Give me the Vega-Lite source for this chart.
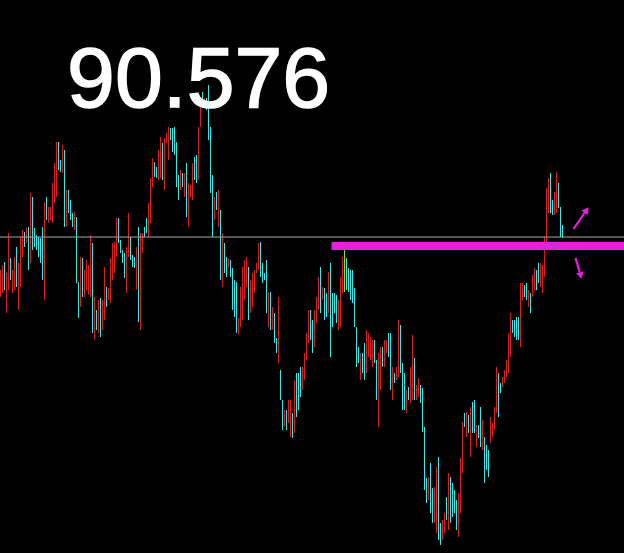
{
"$schema": "https://vega.github.io/schema/vega-lite/v6.json",
"width": 624, "height": 553,
"autosize": {"type": "none"},
"padding": 0,
"background": "black",
"config": {"view": {"stroke": null}},
"datasets": {
"bars": [
{"t":0,"h":90.30,"l":90.03,"c":"r"},{"t":1,"h":90.35,"l":90.07,"c":"r"},{"t":2,"h":90.38,"l":90.10,"c":"b"},{"t":3,"h":90.27,"l":89.87,"c":"r"},{"t":4,"h":90.67,"l":90.10,"c":"r"},{"t":5,"h":90.42,"l":90.20,"c":"b"},{"t":6,"h":90.30,"l":90.07,"c":"r"},{"t":7,"h":90.43,"l":90.10,"c":"r"},{"t":8,"h":90.53,"l":90.13,"c":"b"},{"t":9,"h":90.37,"l":89.90,"c":"r"},
{"t":10,"h":90.63,"l":90.13,"c":"r"},{"t":11,"h":90.70,"l":90.43,"c":"r"},{"t":12,"h":90.68,"l":90.53,"c":"b"},{"t":13,"h":90.72,"l":90.57,"c":"r"},{"t":14,"h":90.73,"l":90.30,"c":"b"},{"t":15,"h":91.07,"l":90.37,"c":"r"},{"t":16,"h":91.03,"l":90.50,"c":"b"},{"t":17,"h":90.72,"l":90.53,"c":"b"},{"t":18,"h":90.65,"l":90.50,"c":"b"},{"t":19,"h":90.63,"l":90.43,"c":"b"},
{"t":20,"h":90.62,"l":90.37,"c":"b"},{"t":21,"h":90.73,"l":90.20,"c":"b"},{"t":22,"h":90.98,"l":90.00,"c":"r"},{"t":23,"h":91.03,"l":90.80,"c":"b"},{"t":24,"h":90.93,"l":90.77,"c":"r"},{"t":25,"h":90.93,"l":90.80,"c":"r"},{"t":26,"h":91.17,"l":90.77,"c":"r"},{"t":27,"h":91.37,"l":90.97,"c":"r"},{"t":28,"h":91.58,"l":91.03,"c":"r"},{"t":29,"h":91.58,"l":91.30,"c":"b"},
{"t":30,"h":91.40,"l":91.28,"c":"b"},{"t":31,"h":91.55,"l":91.27,"c":"r"},{"t":32,"h":91.50,"l":90.73,"c":"b"},{"t":33,"h":91.10,"l":90.73,"c":"r"},{"t":34,"h":91.10,"l":90.87,"c":"b"},{"t":35,"h":91.00,"l":90.80,"c":"b"},{"t":36,"h":90.87,"l":90.73,"c":"b"},{"t":37,"h":90.88,"l":90.70,"c":"r"},{"t":38,"h":90.83,"l":90.17,"c":"b"},{"t":39,"h":90.18,"l":89.82,"c":"b"},
{"t":40,"h":90.43,"l":89.93,"c":"r"},{"t":41,"h":90.42,"l":90.03,"c":"b"},{"t":42,"h":90.30,"l":90.03,"c":"r"},{"t":43,"h":90.40,"l":90.10,"c":"r"},{"t":44,"h":90.35,"l":90.05,"c":"r"},{"t":45,"h":90.65,"l":90.03,"c":"r"},{"t":46,"h":90.57,"l":89.67,"c":"b"},{"t":47,"h":90.03,"l":89.60,"c":"r"},{"t":48,"h":89.90,"l":89.70,"c":"b"},{"t":49,"h":90.00,"l":89.67,"c":"r"},
{"t":50,"h":90.02,"l":89.63,"c":"b"},{"t":51,"h":90.00,"l":89.70,"c":"r"},{"t":52,"h":90.33,"l":89.80,"c":"r"},{"t":53,"h":90.13,"l":89.93,"c":"b"},{"t":54,"h":90.12,"l":90.00,"c":"r"},{"t":55,"h":90.42,"l":89.97,"c":"r"},{"t":56,"h":90.57,"l":90.20,"c":"r"},{"t":57,"h":90.58,"l":90.27,"c":"r"},{"t":58,"h":90.82,"l":90.43,"c":"r"},{"t":59,"h":90.82,"l":90.57,"c":"b"},
{"t":60,"h":90.60,"l":90.47,"c":"b"},{"t":61,"h":90.50,"l":90.37,"c":"b"},{"t":62,"h":90.47,"l":90.22,"c":"b"},{"t":63,"h":90.53,"l":90.07,"c":"r"},{"t":64,"h":90.87,"l":90.43,"c":"r"},{"t":65,"h":90.63,"l":90.40,"c":"b"},{"t":66,"h":90.45,"l":90.33,"c":"b"},{"t":67,"h":90.43,"l":90.32,"c":"b"},{"t":68,"h":90.53,"l":90.10,"c":"r"},{"t":69,"h":90.73,"l":89.78,"c":"b"},
{"t":70,"h":90.67,"l":89.70,"c":"r"},{"t":71,"h":90.67,"l":90.47,"c":"r"},{"t":72,"h":90.73,"l":90.63,"c":"b"},{"t":73,"h":90.82,"l":90.67,"c":"b"},{"t":74,"h":90.97,"l":90.63,"c":"r"},{"t":75,"h":91.22,"l":90.77,"c":"r"},{"t":76,"h":91.42,"l":91.13,"c":"r"},{"t":77,"h":91.38,"l":91.23,"c":"b"},{"t":78,"h":91.33,"l":91.22,"c":"b"},{"t":79,"h":91.50,"l":91.20,"c":"r"},
{"t":80,"h":91.63,"l":91.22,"c":"r"},{"t":81,"h":91.57,"l":91.20,"c":"b"},{"t":82,"h":91.62,"l":91.10,"c":"r"},{"t":83,"h":91.67,"l":91.57,"c":"r"},{"t":84,"h":91.73,"l":91.40,"c":"r"},{"t":85,"h":91.72,"l":91.60,"c":"b"},{"t":86,"h":91.72,"l":91.48,"c":"b"},{"t":87,"h":91.73,"l":91.45,"c":"b"},{"t":88,"h":91.58,"l":91.13,"c":"b"},{"t":89,"h":91.25,"l":91.00,"c":"b"},
{"t":90,"h":91.30,"l":91.10,"c":"r"},{"t":91,"h":91.27,"l":91.13,"c":"b"},{"t":92,"h":91.27,"l":91.03,"c":"r"},{"t":93,"h":91.37,"l":90.83,"c":"b"},{"t":94,"h":91.17,"l":90.73,"c":"r"},{"t":95,"h":91.15,"l":91.03,"c":"r"},{"t":96,"h":91.37,"l":91.00,"c":"r"},{"t":97,"h":91.43,"l":91.20,"c":"b"},{"t":98,"h":91.45,"l":91.17,"c":"b"},{"t":99,"h":91.73,"l":91.20,"c":"r"},
{"t":100,"h":92.00,"l":91.73,"c":"r"},{"t":101,"h":92.08,"l":91.93,"c":"b"},{"t":102,"h":92.02,"l":91.93,"c":"r"},{"t":103,"h":92.02,"l":91.90,"c":"b"},{"t":104,"h":92.15,"l":91.60,"c":"b"},{"t":105,"h":91.73,"l":91.07,"c":"b"},{"t":106,"h":91.25,"l":90.63,"c":"b"},{"t":107,"h":91.03,"l":90.80,"c":"r"},{"t":108,"h":91.08,"l":90.90,"c":"b"},{"t":109,"h":91.10,"l":90.73,"c":"r"},
{"t":110,"h":90.90,"l":90.20,"c":"b"},{"t":111,"h":90.67,"l":90.13,"c":"r"},{"t":112,"h":90.57,"l":90.27,"c":"b"},{"t":113,"h":90.43,"l":90.23,"c":"b"},{"t":114,"h":90.42,"l":90.32,"c":"r"},{"t":115,"h":90.40,"l":90.23,"c":"b"},{"t":116,"h":90.32,"l":89.90,"c":"b"},{"t":117,"h":90.20,"l":89.83,"c":"b"},{"t":118,"h":90.18,"l":89.67,"c":"b"},{"t":119,"h":89.82,"l":89.65,"c":"r"},
{"t":120,"h":90.13,"l":89.73,"c":"r"},{"t":121,"h":90.33,"l":89.80,"c":"r"},{"t":122,"h":90.40,"l":90.00,"c":"r"},{"t":123,"h":90.43,"l":90.13,"c":"r"},{"t":124,"h":90.33,"l":89.80,"c":"b"},{"t":125,"h":90.20,"l":89.87,"c":"r"},{"t":126,"h":90.27,"l":89.93,"c":"r"},{"t":127,"h":90.30,"l":90.07,"c":"r"},{"t":128,"h":90.37,"l":90.27,"c":"r"},{"t":129,"h":90.57,"l":90.30,"c":"r"},
{"t":130,"h":90.58,"l":90.23,"c":"b"},{"t":131,"h":90.37,"l":90.17,"c":"b"},{"t":132,"h":90.27,"l":90.20,"c":"b"},{"t":133,"h":90.40,"l":89.87,"c":"b"},{"t":134,"h":90.08,"l":89.73,"c":"r"},{"t":135,"h":90.08,"l":89.70,"c":"b"},{"t":136,"h":89.93,"l":89.70,"c":"r"},{"t":137,"h":89.87,"l":89.57,"c":"b"},{"t":138,"h":89.62,"l":89.47,"c":"b"},{"t":139,"h":90.03,"l":89.37,"c":"r"},
{"t":140,"h":89.30,"l":89.00,"c":"b"},{"t":141,"h":89.00,"l":88.70,"c":"b"},{"t":142,"h":88.90,"l":88.73,"c":"r"},{"t":143,"h":88.90,"l":88.70,"c":"b"},{"t":144,"h":89.00,"l":88.77,"c":"r"},{"t":145,"h":89.00,"l":88.63,"c":"r"},{"t":146,"h":88.87,"l":88.62,"c":"b"},{"t":147,"h":89.20,"l":88.67,"c":"r"},{"t":148,"h":89.27,"l":88.83,"c":"b"},{"t":149,"h":89.27,"l":88.90,"c":"b"},
{"t":150,"h":89.33,"l":89.03,"c":"b"},{"t":151,"h":89.33,"l":89.10,"c":"r"},{"t":152,"h":89.47,"l":89.20,"c":"r"},{"t":153,"h":89.67,"l":89.40,"c":"r"},{"t":154,"h":89.90,"l":89.57,"c":"r"},{"t":155,"h":89.90,"l":89.60,"c":"b"},{"t":156,"h":89.80,"l":89.47,"c":"b"},{"t":157,"h":89.90,"l":89.53,"c":"r"},{"t":158,"h":90.03,"l":89.77,"c":"r"},{"t":159,"h":90.23,"l":89.90,"c":"r"},
{"t":160,"h":90.33,"l":89.87,"c":"b"},{"t":161,"h":90.13,"l":90.00,"c":"r"},{"t":162,"h":90.12,"l":89.80,"c":"b"},{"t":163,"h":90.07,"l":89.83,"c":"b"},{"t":164,"h":90.28,"l":89.87,"c":"r"},{"t":165,"h":90.37,"l":89.43,"c":"b"},{"t":166,"h":90.07,"l":89.73,"c":"b"},{"t":167,"h":90.07,"l":89.87,"c":"b"},{"t":168,"h":90.05,"l":89.77,"c":"b"},{"t":169,"h":90.00,"l":89.70,"c":"r"},
{"t":170,"h":90.23,"l":89.73,"c":"r"},{"t":171,"h":90.43,"l":90.07,"c":"r"},{"t":172,"h":90.50,"l":90.08,"c":"g"},{"t":173,"h":90.42,"l":90.10,"c":"b"},{"t":174,"h":90.32,"l":90.08,"c":"b"},{"t":175,"h":90.30,"l":90.00,"c":"b"},{"t":176,"h":90.30,"l":89.97,"c":"b"},{"t":177,"h":90.12,"l":89.73,"c":"b"},{"t":178,"h":89.73,"l":89.33,"c":"b"},{"t":179,"h":89.53,"l":89.37,"c":"b"},
{"t":180,"h":89.47,"l":89.20,"c":"r"},{"t":181,"h":89.47,"l":89.27,"c":"b"},{"t":182,"h":89.57,"l":89.20,"c":"b"},{"t":183,"h":89.70,"l":89.27,"c":"r"},{"t":184,"h":89.67,"l":89.43,"c":"r"},{"t":185,"h":89.63,"l":89.40,"c":"r"},{"t":186,"h":89.60,"l":89.33,"c":"r"},{"t":187,"h":89.60,"l":89.37,"c":"b"},{"t":188,"h":89.40,"l":89.00,"c":"b"},{"t":189,"h":89.47,"l":88.73,"c":"r"},
{"t":190,"h":89.53,"l":89.10,"c":"r"},{"t":191,"h":89.53,"l":89.33,"c":"b"},{"t":192,"h":89.60,"l":89.33,"c":"r"},{"t":193,"h":89.60,"l":89.47,"c":"r"},{"t":194,"h":89.67,"l":89.43,"c":"b"},{"t":195,"h":89.67,"l":89.10,"c":"b"},{"t":196,"h":89.33,"l":89.00,"c":"r"},{"t":197,"h":89.27,"l":89.17,"c":"b"},{"t":198,"h":89.33,"l":89.20,"c":"r"},{"t":199,"h":89.80,"l":89.23,"c":"r"},
{"t":200,"h":89.75,"l":89.27,"c":"b"},{"t":201,"h":89.37,"l":88.90,"c":"b"},{"t":202,"h":89.27,"l":88.90,"c":"b"},{"t":203,"h":89.10,"l":88.87,"c":"r"},{"t":204,"h":89.13,"l":89.00,"c":"b"},{"t":205,"h":89.33,"l":88.97,"c":"r"},{"t":206,"h":89.65,"l":89.00,"c":"r"},{"t":207,"h":89.42,"l":89.00,"c":"b"},{"t":208,"h":89.15,"l":89.00,"c":"r"},{"t":209,"h":89.22,"l":89.03,"c":"r"},
{"t":210,"h":89.15,"l":88.97,"c":"b"},{"t":211,"h":89.12,"l":88.68,"c":"b"},{"t":212,"h":88.73,"l":88.10,"c":"b"},{"t":213,"h":88.22,"l":87.97,"c":"b"},{"t":214,"h":88.23,"l":88.00,"c":"r"},{"t":215,"h":88.37,"l":87.87,"c":"b"},{"t":216,"h":88.12,"l":87.77,"c":"b"},{"t":217,"h":88.13,"l":87.77,"c":"r"},{"t":218,"h":88.33,"l":87.67,"c":"r"},{"t":219,"h":88.43,"l":87.60,"c":"b"},
{"t":220,"h":87.77,"l":87.55,"c":"b"},{"t":221,"h":87.80,"l":87.60,"c":"r"},{"t":222,"h":87.87,"l":87.67,"c":"r"},{"t":223,"h":88.03,"l":87.80,"c":"b"},{"t":224,"h":88.27,"l":87.70,"c":"r"},{"t":225,"h":88.23,"l":87.77,"c":"b"},{"t":226,"h":88.17,"l":87.83,"c":"b"},{"t":227,"h":88.10,"l":87.87,"c":"b"},{"t":228,"h":88.00,"l":87.70,"c":"b"},{"t":229,"h":88.07,"l":87.63,"c":"r"},
{"t":230,"h":88.42,"l":87.87,"c":"r"},{"t":231,"h":88.78,"l":88.27,"c":"r"},{"t":232,"h":88.87,"l":88.73,"c":"b"},{"t":233,"h":88.88,"l":88.63,"c":"r"},{"t":234,"h":88.85,"l":88.67,"c":"b"},{"t":235,"h":88.93,"l":88.43,"c":"r"},{"t":236,"h":88.98,"l":88.67,"c":"b"},{"t":237,"h":89.00,"l":88.67,"c":"b"},{"t":238,"h":88.75,"l":88.53,"c":"r"},{"t":239,"h":88.75,"l":88.62,"c":"b"},
{"t":240,"h":88.93,"l":88.53,"c":"b"},{"t":241,"h":88.80,"l":88.50,"c":"r"},{"t":242,"h":88.63,"l":88.17,"c":"b"},{"t":243,"h":88.55,"l":88.30,"c":"b"},{"t":244,"h":88.50,"l":88.23,"c":"b"},{"t":245,"h":88.83,"l":88.57,"c":"r"},{"t":246,"h":88.77,"l":88.63,"c":"r"},{"t":247,"h":88.93,"l":88.70,"c":"r"},{"t":248,"h":89.33,"l":88.87,"c":"r"},{"t":249,"h":89.27,"l":88.83,"c":"b"},
{"t":250,"h":89.17,"l":89.07,"c":"b"},{"t":251,"h":89.23,"l":89.13,"c":"r"},{"t":252,"h":89.30,"l":89.17,"c":"r"},{"t":253,"h":89.40,"l":89.23,"c":"r"},{"t":254,"h":89.67,"l":89.27,"c":"r"},{"t":255,"h":89.87,"l":89.43,"c":"r"},{"t":256,"h":89.80,"l":89.67,"c":"b"},{"t":257,"h":89.80,"l":89.63,"c":"b"},{"t":258,"h":89.83,"l":89.60,"c":"b"},{"t":259,"h":89.83,"l":89.60,"c":"b"},
{"t":260,"h":90.17,"l":89.53,"c":"r"},{"t":261,"h":90.17,"l":90.00,"c":"r"},{"t":262,"h":90.15,"l":90.03,"c":"b"},{"t":263,"h":90.17,"l":90.00,"c":"b"},{"t":264,"h":90.10,"l":89.93,"c":"r"},{"t":265,"h":90.07,"l":89.87,"c":"b"},{"t":266,"h":90.25,"l":90.03,"c":"r"},{"t":267,"h":90.32,"l":90.10,"c":"r"},{"t":268,"h":90.30,"l":90.10,"c":"b"},{"t":269,"h":90.37,"l":90.17,"c":"b"},
{"t":270,"h":90.37,"l":90.13,"c":"r"},{"t":271,"h":90.35,"l":90.07,"c":"r"},{"t":272,"h":90.63,"l":90.23,"c":"r"},{"t":273,"h":91.12,"l":90.50,"c":"r"},{"t":274,"h":91.22,"l":90.87,"c":"r"},{"t":275,"h":91.27,"l":90.87,"c":"b"},{"t":276,"h":91.00,"l":90.85,"c":"b"},{"t":277,"h":91.08,"l":90.85,"c":"r"},{"t":278,"h":91.28,"l":90.87,"c":"r"},{"t":279,"h":91.17,"l":90.92,"c":"b"},
{"t":280,"h":90.93,"l":90.63,"c":"b"},{"t":281,"h":90.75,"l":90.62,"c":"b"}
]
},
"layer": [
{
"data": {"name": "bars"},
"mark": {"type": "rule", "strokeWidth": 1},
"encoding": {
"x": {"field": "t", "type": "quantitative", "scale": {"domain": [-0.25, 311.75], "nice": false, "zero": false}, "axis": null},
"y": {"field": "h", "type": "quantitative", "scale": {"domain": [87.47, 93], "nice": false, "zero": false}, "axis": null},
"y2": {"field": "l"},
"color": {"field": "c", "type": "nominal", "scale": {"domain": ["r", "b", "g"], "range": ["#d42222", "#44e4e4", "#80e040"]}, "legend": null}
}
},
{
"data": {"values": [{"p": 90.63}]},
"mark": {"type": "rule", "color": "#a8a8a8", "strokeWidth": 1},
"encoding": {"y": {"field": "p", "type": "quantitative"}}
},
{
"data": {"values": [{"a": 165.5, "b": 312, "p": 90.54}]},
"mark": {"type": "rule", "color": "#e61ee6", "strokeWidth": 8},
"encoding": {
"x": {"field": "a", "type": "quantitative"},
"x2": {"field": "b"},
"y": {"field": "p", "type": "quantitative"}
}
},
{
"data": {"values": [{"a": 286.5, "b": 292.3, "p": 90.71, "q": 90.88}, {"a": 287.5, "b": 289.6, "p": 90.42, "q": 90.28}]},
"mark": {"type": "rule", "color": "#e61ee6", "strokeWidth": 2.2},
"encoding": {
"x": {"field": "a", "type": "quantitative"},
"x2": {"field": "b"},
"y": {"field": "p", "type": "quantitative"},
"y2": {"field": "q"}
}
},
{
"data": {"values": [{"a": 293, "p": 90.90, "s": "triangle-up", "r": 35}, {"a": 290.1, "p": 90.245, "s": "triangle-down", "r": -15}]},
"mark": {"type": "point", "filled": true, "color": "#e61ee6", "size": 60, "opacity": 1},
"encoding": {
"x": {"field": "a", "type": "quantitative"},
"y": {"field": "p", "type": "quantitative"},
"shape": {"field": "s", "type": "nominal", "scale": null},
"angle": {"field": "r", "type": "quantitative", "scale": null}
}
},
{
"data": {"values": [{"a": 33.3, "p": 91.93, "label": "90.576"}]},
"mark": {"type": "text", "align": "left", "baseline": "alphabetic", "font": "Liberation Sans", "fontSize": 86, "color": "white", "stroke": "white", "strokeWidth": 1.5},
"encoding": {
"x": {"field": "a", "type": "quantitative"},
"y": {"field": "p", "type": "quantitative"},
"text": {"field": "label"}
}
}
]
}
